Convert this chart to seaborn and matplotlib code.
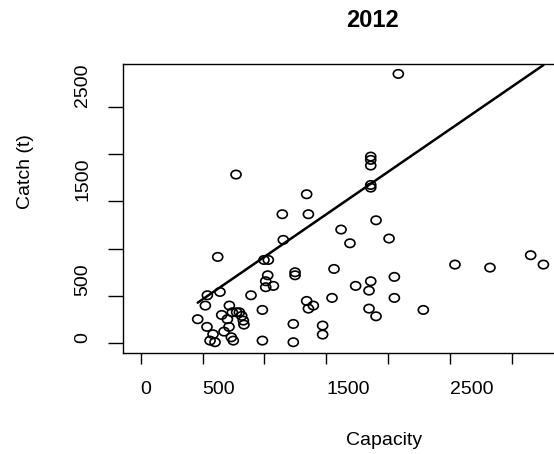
import matplotlib
matplotlib.use("Agg")
import matplotlib.pyplot as plt
from matplotlib.path import Path
from matplotlib.transforms import Affine2D
import pandas as pd
import seaborn as sns

# ---- data ---------------------------------------------------------------
year = "2012"

capacity = [2083, 771, 1860, 1860, 1860, 1860, 1860, 1342, 1145, 1356,
            1903, 1620, 1692, 2008, 1153, 623, 997, 1032, 2541, 2824,
            3153, 3256, 1248, 1248, 1563, 2051, 1860, 1738, 1846, 1027,
            1011, 1011, 1073, 539, 641, 892, 1547, 2051, 1342, 1356,
            1396, 1846, 1903, 2285, 523, 984, 1234, 1471, 1471, 984,
            1234, 461, 536, 585, 561, 601, 674, 733, 749, 655,
            701, 714, 717, 741, 776, 798, 817, 830, 835]

catch = [2845, 1782, 1972, 1937, 1877, 1672, 1644, 1574, 1363, 1363,
         1299, 1201, 1056, 1106, 1092, 912, 880, 880, 831, 799,
         930, 831, 750, 718, 785, 701, 655, 606, 556, 718,
         655, 592, 606, 507, 542, 507, 479, 479, 447, 366,
         398, 366, 285, 352, 398, 352, 204, 187, 92, 28,
         11, 254, 173, 95, 28, 11, 123, 63, 28, 299,
         254, 173, 398, 327, 327, 327, 289, 239, 197]

# fitted line: Catch = intercept + slope * Capacity
fit_intercept = 14.5
fit_slope = 0.898

x_ticks = [0, 500, 1000, 1500, 2000, 2500, 3000]
x_tick_labels = ["0", "500", "", "1500", "", "2500", ""]
y_ticks = [0, 500, 1000, 1500, 2000, 2500]
y_tick_labels = ["0", "500", "", "1500", "", "2500"]

# ---- style --------------------------------------------------------------
sns.set_style("white")
plt.rcParams["font.family"] = ["Liberation Sans", "DejaVu Sans"]
plt.rcParams["text.color"] = "black"
plt.rcParams["axes.labelcolor"] = "black"
plt.rcParams["xtick.color"] = "black"
plt.rcParams["ytick.color"] = "black"

df = pd.DataFrame({"Capacity": capacity, "Catch": catch})
fit = pd.DataFrame({"Capacity": [df["Capacity"].min(), df["Capacity"].max()]})
fit["Catch"] = fit_intercept + fit_slope * fit["Capacity"]

fig = plt.figure(figsize=(5.54, 4.54), dpi=100)
ax = fig.add_axes([0.2220, 0.2214, 0.8051, 0.6377])

# slightly flattened open ring marker
ring = Path.unit_circle().transformed(Affine2D().scale(1.0, 0.84))
sns.scatterplot(data=df, x="Capacity", y="Catch", marker=ring, s=52,
                linewidth=1.2, legend=False, ax=ax)
pts = ax.collections[0]
pts.set_facecolor("none")
pts.set_edgecolor("black")

sns.lineplot(data=fit, x="Capacity", y="Catch", color="black",
             linewidth=1.8, ax=ax)

ax.set_xlim(-143, 3463)
ax.set_ylim(-108, 2950)

for s in ax.spines.values():
    s.set_visible(True)
    s.set_color("black")
    s.set_linewidth(1.0)

ax.set_xticks(x_ticks, x_tick_labels)
ax.set_yticks(y_ticks, y_tick_labels)
ax.tick_params(axis="x", direction="out", length=8, width=1.0, color="black",
               labelcolor="black", pad=12, labelsize=14, bottom=True)
ax.tick_params(axis="y", direction="out", length=11, width=1.0, color="black",
               labelcolor="black", pad=18, labelsize=14, left=True)
for lab in ax.get_xticklabels():
    lab.set_horizontalalignment("left")
for lab in ax.get_yticklabels():
    lab.set_rotation(90)
    lab.set_rotation_mode("anchor")
    lab.set_horizontalalignment("left")
    lab.set_verticalalignment("center")

ax.set_xlabel("")
ax.set_ylabel("")
ax.text(0.5, 1.128, year, transform=ax.transAxes, ha="left", va="baseline",
        fontsize=17, fontweight="bold", color="black")
ax.text(0.5, -0.316, "Capacity", transform=ax.transAxes, ha="left",
        va="baseline", fontsize=14, color="black")
ax.text(-0.2175, 0.5, "Catch (t)", transform=ax.transAxes, rotation=90,
        rotation_mode="anchor", ha="left", va="center", fontsize=14,
        color="black")

fig.savefig("out.png", dpi=100)
